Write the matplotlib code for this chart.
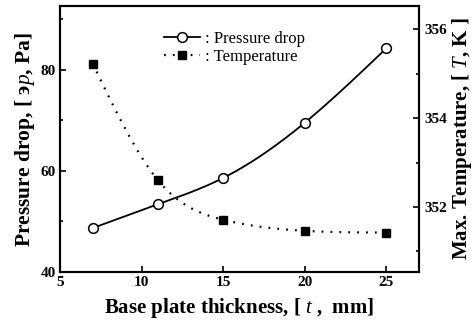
import numpy as np
import matplotlib
matplotlib.use('Agg')
import matplotlib.pyplot as plt

# data
thickness = [7, 11, 15, 20, 25]
pressure_drop = [48.7, 53.4, 58.6, 69.5, 84.2]
temperature = [355.23, 352.60, 351.71, 351.46, 351.42]

plt.rcParams['font.family'] = 'Liberation Serif'
plt.rcParams['mathtext.fontset'] = 'custom'
plt.rcParams['mathtext.rm'] = 'Liberation Serif'
plt.rcParams['mathtext.it'] = 'Liberation Serif:italic'
plt.rcParams['mathtext.bf'] = 'Liberation Serif:bold'


def smooth(x, y, n=200):
    # natural cubic spline, only used to draw a smooth curve through the points
    x = np.asarray(x, float)
    y = np.asarray(y, float)
    k = len(x)
    h = np.diff(x)
    A = np.zeros((k, k))
    r = np.zeros(k)
    A[0, 0] = A[-1, -1] = 1
    for i in range(1, k - 1):
        A[i, i - 1] = h[i - 1]
        A[i, i] = 2 * (h[i - 1] + h[i])
        A[i, i + 1] = h[i]
        r[i] = 6 * ((y[i + 1] - y[i]) / h[i] - (y[i] - y[i - 1]) / h[i - 1])
    m = np.linalg.solve(A, r)
    xs = np.linspace(x[0], x[-1], n)
    idx = np.clip(np.searchsorted(x, xs) - 1, 0, k - 2)
    x0, x1 = x[idx], x[idx + 1]
    hh = x1 - x0
    a = (x1 - xs) / hh
    b = (xs - x0) / hh
    ys = (a * y[idx] + b * y[idx + 1]
          + ((a**3 - a) * m[idx] + (b**3 - b) * m[idx + 1]) * hh**2 / 6)
    return xs, ys


fig, ax = plt.subplots(figsize=(4.77, 3.29), dpi=100)
fig.subplots_adjust(left=0.126, right=0.878, top=0.982, bottom=0.173)
ax2 = ax.twinx()

xs, ys = smooth(thickness, pressure_drop)
ax.plot(xs, ys, color='black', lw=1.3)
ax.plot(thickness, pressure_drop, 'o', color='black', mfc='white', ms=7, mew=1.1)

xs, ts = smooth(thickness, temperature)
ax2.plot(xs, ts, color='black', lw=1.6, ls=(0, (0.8, 3.2)))
ax2.plot(thickness, temperature, 's', color='black', ms=5.5)

ax.set_xlim(5, 27)
ax.set_ylim(40, 92.6)
ax2.set_ylim(350.53, 356.53)

ax.set_xticks([5, 10, 15, 20, 25])
ax.set_yticks([40, 60, 80])
ax.set_yticks([50, 70, 90], minor=True)
ax2.set_yticks([352, 354, 356])
ax2.set_yticks([351, 353, 355], minor=True)

for a in (ax, ax2):
    a.tick_params(which='both', direction='in', width=1.2, labelsize=11)
    a.tick_params(which='major', length=4)
    a.tick_params(which='minor', length=2.5)
    for s in a.spines.values():
        s.set_linewidth(1.5)
    for lab in a.get_xticklabels() + a.get_yticklabels():
        lab.set_fontweight('bold')
ax.tick_params(axis='x', pad=3)
ax.tick_params(axis='y', pad=3)
ax2.tick_params(axis='y', pad=4)

ax.set_xlabel(r'Base plate thickness, [ $\mathit{t}$ ,  mm]', fontsize=15,
              fontweight='bold', labelpad=5)
ax.set_ylabel(r'Pressure drop, [ э$\mathit{p}$, Pa]', fontsize=15.5,
              fontweight='bold', labelpad=3)
ax2.set_ylabel(r'Max. Temperature, [ $\mathit{T}$, K ]', fontsize=15,
               fontweight='bold', labelpad=2)

h1, = ax.plot([], [], '-o', color='black', mfc='white', ms=7, mew=1.1, lw=1.3)
h2, = ax.plot([], [], 's', color='black', ms=5.5, ls=(0, (0.8, 3.2)), lw=1.6)
ax.legend([h1, h2], [': Pressure drop', ': Temperature'], loc='upper left',
          bbox_to_anchor=(0.27, 0.93), frameon=False, fontsize=12,
          handlelength=2.2, handletextpad=0.3, labelspacing=0.1,
          borderaxespad=0)

fig.savefig('out.png', dpi=100)
